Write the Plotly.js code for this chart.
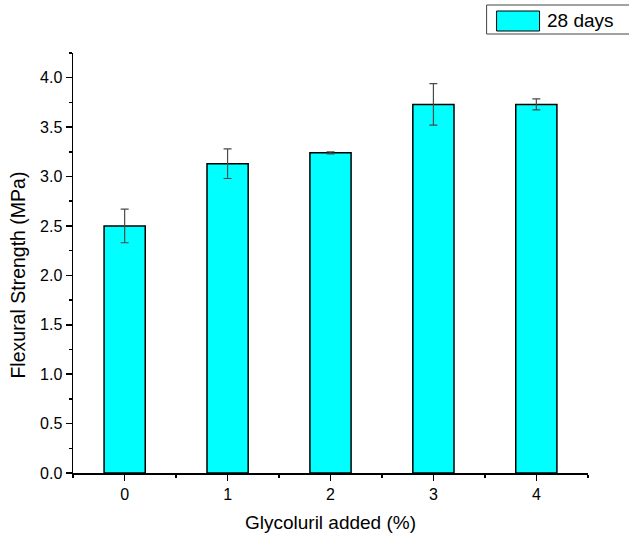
<!DOCTYPE html>
<html>
<head>
<meta charset="utf-8">
<script src="https://cdn.plot.ly/plotly-3.0.1.min.js"></script>
<style>
  html, body { margin: 0; padding: 0; background: #ffffff; }
  #chart { width: 629px; height: 539px; }
</style>
</head>
<body>
<div id="chart"></div>
<script>
// Flexural strength after 28 days for each glycoluril dosage
const glycolurilPct = [0, 1, 2, 3, 4];
const strengthMPa = [2.50, 3.13, 3.24, 3.73, 3.73];
const strengthErr = [0.17, 0.15, 0.01, 0.21, 0.055];
const seriesName = '28 days';
const xTitle = 'Glycoluril added (%)';
const yTitle = 'Flexural Strength (MPa)';

const FONT = 'Arial, "Liberation Sans", sans-serif';

const bars = {
  type: 'bar',
  name: seriesName,
  x: glycolurilPct,
  y: strengthMPa,
  width: 0.4,
  marker: { color: '#00FFFF', line: { color: '#000000', width: 1.5 } },
  error_y: { type: 'data', array: strengthErr, visible: true, color: '#4a4a4a', thickness: 1.2, width: 4 },
  showlegend: false,
  hoverinfo: 'x+y'
};

// Plot area spans 73..588.5 px horizontally and 53..473 px vertically;
// helpers convert page pixels into paper fractions for the legend box and y title
const L = 73, R = 588.5, T = 53, B = 473;
const px = v => (v - L) / (R - L);
const py = v => (B - v) / (B - T);

const layout = {
  width: 629,
  height: 539,
  margin: { l: L, r: 629 - R, t: T, b: 539 - B, pad: 0 },
  paper_bgcolor: '#ffffff',
  plot_bgcolor: '#ffffff',
  font: { family: FONT, size: 16, color: '#000000' },
  bargap: 0,
  xaxis: {
    range: [-0.502, 4.502],
    tickmode: 'array',
    tickvals: glycolurilPct,
    ticktext: glycolurilPct.map(String),
    ticks: 'outside',
    ticklen: 6,
    tickwidth: 1.5,
    tickcolor: '#000',
    minor: { tickmode: 'linear', tick0: -0.5, dtick: 0.5, ticks: 'outside', ticklen: 3, tickwidth: 1.5, tickcolor: '#000' },
    showline: true,
    linecolor: '#000',
    linewidth: 1.5,
    showgrid: false,
    zeroline: false,
    tickfont: { family: FONT, size: 16 },
    title: { text: xTitle, font: { family: FONT, size: 19 }, standoff: 14 }
  },
  yaxis: {
    range: [0, 4.25],
    tick0: 0,
    dtick: 0.5,
    tickformat: '.1f',
    ticks: 'outside',
    ticklen: 6,
    tickwidth: 1.5,
    tickcolor: '#000',
    minor: { tick0: 0, dtick: 0.25, ticks: 'outside', ticklen: 3, tickwidth: 1.5, tickcolor: '#000' },
    showline: true,
    linecolor: '#000',
    linewidth: 1.5,
    showgrid: false,
    zeroline: false,
    tickfont: { family: FONT, size: 16 }
  },
  shapes: [
    { type: 'rect', xref: 'paper', yref: 'paper', x0: px(487), x1: px(634), y0: py(34), y1: py(5),
      line: { color: '#444', width: 1 }, fillcolor: '#ffffff', layer: 'above' },
    { type: 'rect', xref: 'paper', yref: 'paper', x0: px(497), x1: px(540), y0: py(31), y1: py(11),
      line: { color: '#000', width: 1 }, fillcolor: '#00FFFF', layer: 'above' }
  ],
  annotations: [
    { xref: 'paper', yref: 'paper', x: px(545), y: py(20.5), xanchor: 'left', yanchor: 'middle',
      text: seriesName, showarrow: false, font: { family: FONT, size: 19, color: '#000' } },
    { xref: 'paper', yref: 'paper', x: px(17), y: py(275.5), xanchor: 'center', yanchor: 'middle',
      textangle: -90, text: yTitle, showarrow: false, font: { family: FONT, size: 19.5, color: '#000' } }
  ]
};

Plotly.newPlot('chart', [bars], layout, { displayModeBar: false, staticPlot: true });
</script>
</body>
</html>
